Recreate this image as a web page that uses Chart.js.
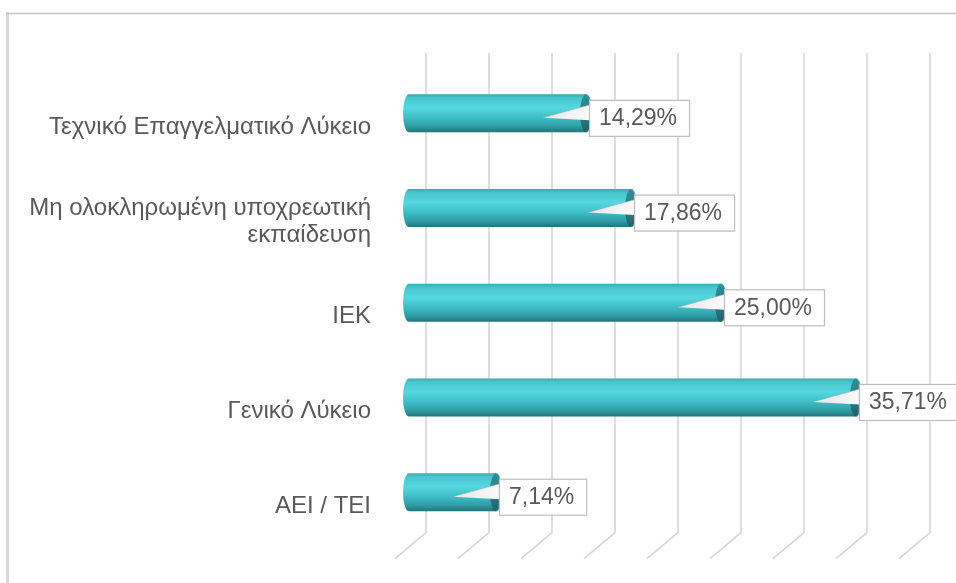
<!DOCTYPE html>
<html>
<head>
<meta charset="utf-8">
<script src="https://cdn.jsdelivr.net/npm/chart.js@4.4.0/dist/chart.umd.min.js"></script>
<style>
	html, body { margin: 0; padding: 0; background: #fff; }
	#contenidor { width: 956px; height: 583px; position: relative; }
</style>
</head>
<body>
<div id="contenidor"><canvas id="grafic" width="956" height="583"></canvas></div>
<script>
// Dades del gràfic
const categories = [
	"Τεχνικό Επαγγελματικό Λύκειο",
	["Μη ολοκληρωμένη υποχρεωτική", "εκπαίδευση"],
	"ΙΕΚ",
	"Γενικό Λύκειο",
	"ΑΕΙ / ΤΕΙ"
];
const percentatges = [14.29, 17.86, 25.00, 35.71, 7.14];
const marques = [0, 5, 10, 15, 20, 25, 30, 35, 40];	// línies de la graella (sense etiquetes)

const font = '"Liberation Sans", Arial, Helvetica, sans-serif';
const colorText = '#595959';

function formatPercent(v) {
	return v.toFixed(2).replace('.', ',') + '%';
}

// Marc gris de l'àrea del gràfic
const marcPlugin = {
	id: 'marc',
	beforeDraw(chart) {
		let ctx = chart.ctx;
		ctx.save();
		ctx.fillStyle = '#fff';
		ctx.fillRect(0, 0, chart.width, chart.height);
		ctx.strokeStyle = '#d6d6d6';
		ctx.lineWidth = 3;
		ctx.beginPath();
		ctx.moveTo(7.5, 12);
		ctx.lineTo(7.5, chart.height);
		ctx.stroke();
		ctx.strokeStyle = '#c4c4c4';
		ctx.lineWidth = 1.5;
		ctx.beginPath();
		ctx.moveTo(6, 13.5);
		ctx.lineTo(chart.width, 13.5);
		ctx.stroke();
		ctx.restore();
	}
};

// Graella en perspectiva (paret del fons + terra)
const graellaPlugin = {
	id: 'graella',
	beforeDatasetsDraw(chart) {
		let ctx = chart.ctx;
		let area = chart.chartArea;
		let escala = chart.scales.x;
		ctx.save();
		ctx.strokeStyle = '#d5d5d5';
		ctx.lineWidth = 1.5;
		marques.forEach((m) => {
			let px = escala.getPixelForValue(m);
			ctx.beginPath();
			ctx.moveTo(px + 17, area.top - 13);
			ctx.lineTo(px + 17, area.bottom - 7);
			ctx.lineTo(px - 14, area.bottom + 19);
			ctx.stroke();
		});
		ctx.restore();
	}
};

function dibuixaCilindre(ctx, x0, x1, yc, h) {
	let r = h / 2;
	let rx = 6;
	let xe = x1 - 3;
	let top = yc - r, bottom = yc + r;

	// Cos del cilindre
	let grad = ctx.createLinearGradient(0, top, 0, bottom);
	grad.addColorStop(0, '#3aa6ad');
	grad.addColorStop(0.08, '#46c4cc');
	grad.addColorStop(0.35, '#55d8e0');
	grad.addColorStop(0.6, '#3fc0c8');
	grad.addColorStop(0.85, '#2f9ca3');
	grad.addColorStop(1, '#25737a');
	ctx.beginPath();
	ctx.moveTo(xe, top);
	ctx.lineTo(x0, top);
	ctx.ellipse(x0, yc, rx, r, 0, -Math.PI / 2, Math.PI / 2, true);
	ctx.lineTo(xe, bottom);
	ctx.ellipse(xe, yc, rx, r, 0, Math.PI / 2, -Math.PI / 2, true);
	ctx.closePath();
	ctx.fillStyle = grad;
	ctx.fill();

	// Tapa de la dreta
	let gradTapa = ctx.createLinearGradient(0, top, 0, bottom);
	gradTapa.addColorStop(0, '#2f8e95');
	gradTapa.addColorStop(0.5, '#2a8088');
	gradTapa.addColorStop(1, '#1f6368');
	ctx.beginPath();
	ctx.ellipse(xe, yc, rx, r, 0, 0, Math.PI * 2);
	ctx.fillStyle = gradTapa;
	ctx.fill();
	ctx.strokeStyle = 'rgba(90,200,205,0.6)';
	ctx.lineWidth = 1;
	ctx.beginPath();
	ctx.ellipse(xe, yc, rx, r, 0, -Math.PI / 2, Math.PI / 2, false);
	ctx.stroke();
}

function dibuixaEtiqueta(ctx, x1, yc, text) {
	ctx.font = '23px ' + font;
	let amplada = ctx.measureText(text).width;
	let caixaTop = yc - 13.5;
	let caixaAlt = 36;

	// Punta de la crida
	let gradPunta = ctx.createLinearGradient(x1 - 46, 0, x1, 0);
	gradPunta.addColorStop(0, '#e6e6e6');
	gradPunta.addColorStop(1, '#fafafa');
	ctx.beginPath();
	ctx.moveTo(x1 - 46, yc + 4.5);
	ctx.lineTo(x1 + 1, yc - 8.5);
	ctx.lineTo(x1 + 1, yc + 7);
	ctx.closePath();
	ctx.fillStyle = gradPunta;
	ctx.fill();
	ctx.strokeStyle = 'rgba(170,170,170,0.6)';
	ctx.lineWidth = 0.8;
	ctx.beginPath();
	ctx.moveTo(x1 - 46, yc + 4.5);
	ctx.lineTo(x1 + 1, yc - 8.5);
	ctx.stroke();

	// Caixa
	ctx.fillStyle = '#fff';
	ctx.fillRect(x1, caixaTop, amplada + 22, caixaAlt);
	ctx.strokeStyle = '#bdbdbd';
	ctx.lineWidth = 1.2;
	ctx.strokeRect(x1 + 0.5, caixaTop + 0.5, amplada + 22, caixaAlt);

	ctx.fillStyle = colorText;
	ctx.textAlign = 'left';
	ctx.textBaseline = 'middle';
	ctx.fillText(text, x1 + 10, caixaTop + caixaAlt / 2 + 1);
}

// Barres cilíndriques i etiquetes de valor
const cilindresPlugin = {
	id: 'cilindres',
	afterDatasetsDraw(chart) {
		let ctx = chart.ctx;
		let meta = chart.getDatasetMeta(0);
		ctx.save();
		meta.data.forEach((barra) => {
			dibuixaCilindre(ctx, barra.base, barra.x, barra.y, barra.height);
		});
		meta.data.forEach((barra, i) => {
			dibuixaEtiqueta(ctx, barra.x, barra.y, formatPercent(percentatges[i]));
		});
		ctx.restore();
	}
};

new Chart(document.getElementById('grafic'), {
	type: 'bar',
	data: {
		labels: categories,
		datasets: [{
			data: percentatges,
			backgroundColor: 'rgba(0,0,0,0)',
			borderWidth: 0,
			barThickness: 38
		}]
	},
	options: {
		indexAxis: 'y',
		responsive: false,
		animation: false,
		layout: {
			padding: { left: 0, right: 43, top: 66, bottom: 42 }
		},
		plugins: {
			legend: { display: false },
			tooltip: { enabled: false }
		},
		scales: {
			x: {
				display: false,
				min: 0,
				max: 40,
				ticks: { stepSize: 5 }
			},
			y: {
				grid: { display: false },
				border: { display: false },
				ticks: {
					color: colorText,
					padding: 30,
					labelOffset: 14,
					font: { family: font, size: 24, lineHeight: 1.12 }
				},
				afterFit(scale) {
					scale.width = 409;
				}
			}
		}
	},
	plugins: [marcPlugin, graellaPlugin, cilindresPlugin]
});
</script>
</body>
</html>
